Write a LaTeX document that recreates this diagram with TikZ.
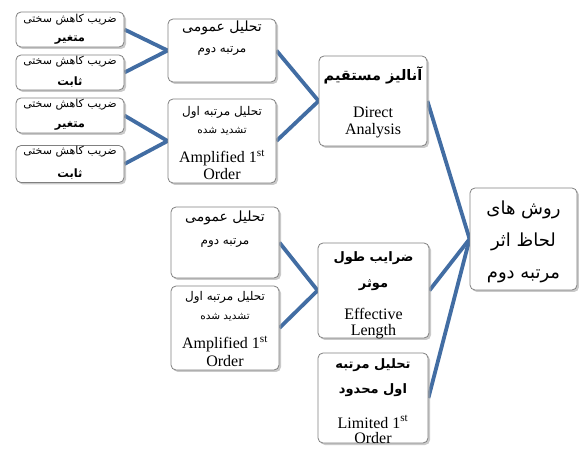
\documentclass[tikz,border=0pt]{standalone}
\usepackage{fontspec}
\setmainfont{Liberation Serif}
\newfontfamily\persfont[Script=Arabic]{DejaVu Sans}
\TeXXeTstate=1
\usetikzlibrary{shadows}
\definecolor{conn}{RGB}{66,109,163}
\definecolor{bord}{RGB}{128,128,128}
\pgfdeclarelayer{background}
\pgfsetlayers{background,main}
\newcommand\bx[6]{\node[box,minimum width=#4pt,minimum height=#5pt] (#1) at (#2,#3) {};}
\newcommand\ptx[5]{\node[txt] (#1) at (#2,#3) {\persfont\fontsize{#4pt}{#4pt}\selectfont #5};}
\newcommand\pbx[5]{\node[txt] (#1) at (#2,#3) {\persfont\bfseries\fontsize{#4pt}{#4pt}\selectfont #5};}
\newcommand\etx[4]{\node[txt] (#1) at (#2,#3) {\fontsize{16pt}{16pt}\selectfont #4};}
\begin{document}
\begin{tikzpicture}[x=1pt,y=-1pt,
  box/.style={draw=bord,line width=0.8pt,rounded corners=5pt,fill=white,inner sep=0pt,
    drop shadow={shadow xshift=2pt,shadow yshift=-2pt,fill=black!35,opacity=0.6}},
  txt/.style={inner sep=0pt,anchor=center},
  link/.style={draw=conn,line width=3.8pt}]
\useasboundingbox (0,0) rectangle (579,449);
% boxes
\bx{L1}{70}{29.5}{108}{35}{}
\bx{L2}{70}{72.5}{108}{35}{}
\bx{L3}{70}{115.5}{108}{35}{}
\bx{L4}{70}{164}{108}{37}{}
\bx{M1}{222}{50.5}{108}{63}{}
\bx{M2}{222}{141}{108}{84}{}
\bx{DA}{373}{101}{108}{90}{}
\bx{R}{523.5}{239}{107}{102}{}
\bx{B1}{225}{242.5}{108}{71}{}
\bx{B2}{225}{328}{108}{84}{}
\bx{EL}{373.5}{290.5}{111}{95}{}
\bx{LO}{373}{398}{110}{90}{}
% connectors
\begin{pgfonlayer}{background}
\draw[link] (L1.east) -- (M1.west);
\draw[link] (L2.east) -- (M1.west);
\draw[link] (L3.east) -- (M2.west);
\draw[link] (L4.east) -- (M2.west);
\draw[link] (M1.east) -- (DA.west);
\draw[link] (M2.east) -- (DA.west);
\draw[link] (DA.east) -- (R.west);
\draw[link] (EL.east) -- (R.west);
\draw[link] (LO.east) -- (R.west);
\draw[link] (B1.east) -- (EL.west);
\draw[link] (B2.east) -- (EL.west);
\end{pgfonlayer}
% texts
\ptx{L1a}{70}{20}{11}{\beginR ضریب کاهش سختی\endR}
\pbx{L1b}{70}{40}{11.5}{\beginR متغیر\endR}
\ptx{L2a}{70}{62}{11}{\beginR ضریب کاهش سختی\endR}
\pbx{L2b}{70}{82}{11.5}{\beginR ثابت\endR}
\ptx{L3a}{70}{105}{11}{\beginR ضریب کاهش سختی\endR}
\pbx{L3b}{70}{126}{11.5}{\beginR متغیر\endR}
\ptx{L4a}{70}{152}{11}{\beginR ضریب کاهش سختی\endR}
\pbx{L4b}{70}{174}{11.5}{\beginR ثابت\endR}
\ptx{M1a}{222}{28}{14}{\beginR تحلیل عمومی\endR}
\ptx{M1b}{222}{51}{12}{\beginR مرتبه دوم\endR}
\ptx{M2a}{222}{112}{12}{\beginR تحلیل مرتبه اول\endR}
\ptx{M2b}{222}{131}{10.5}{\beginR تشدید شده\endR}
\etx{M2c}{222}{158}{Amplified 1\textsuperscript{st}}
\etx{M2d}{222}{174}{Order}
\pbx{DAa}{373}{75}{14.5}{\beginR آنالیز مستقیم\endR}
\etx{DAb}{373}{112}{Direct}
\etx{DAc}{373}{131}{Analysis}
\ptx{Ra}{523.5}{210}{18}{\beginR روش های\endR}
\ptx{Rb}{523.5}{242}{18}{\beginR لحاظ اثر\endR}
\ptx{Rc}{523.5}{276}{18}{\beginR مرتبه دوم\endR}
\ptx{B1a}{225}{218}{14}{\beginR تحلیل عمومی\endR}
\ptx{B1b}{225}{243}{12}{\beginR مرتبه دوم\endR}
\ptx{B2a}{225}{297}{12}{\beginR تحلیل مرتبه اول\endR}
\ptx{B2b}{225}{317}{10.5}{\beginR تشدید شده\endR}
\etx{B2c}{225}{344}{Amplified 1\textsuperscript{st}}
\etx{B2d}{225}{361}{Order}
\pbx{ELa}{373.5}{258}{13}{\beginR ضرایب طول\endR}
\pbx{ELb}{373.5}{285}{13}{\beginR موثر\endR}
\etx{ELc}{373.5}{314}{Effective}
\etx{ELd}{373.5}{332}{Length}
\pbx{LOa}{373}{365}{13}{\beginR تحلیل مرتبه\endR}
\pbx{LOb}{373}{390}{13}{\beginR اول محدود\endR}
\etx{LOc}{373}{422}{Limited 1\textsuperscript{st}}
\etx{LOd}{373}{438}{Order}
\end{tikzpicture}
\end{document}
